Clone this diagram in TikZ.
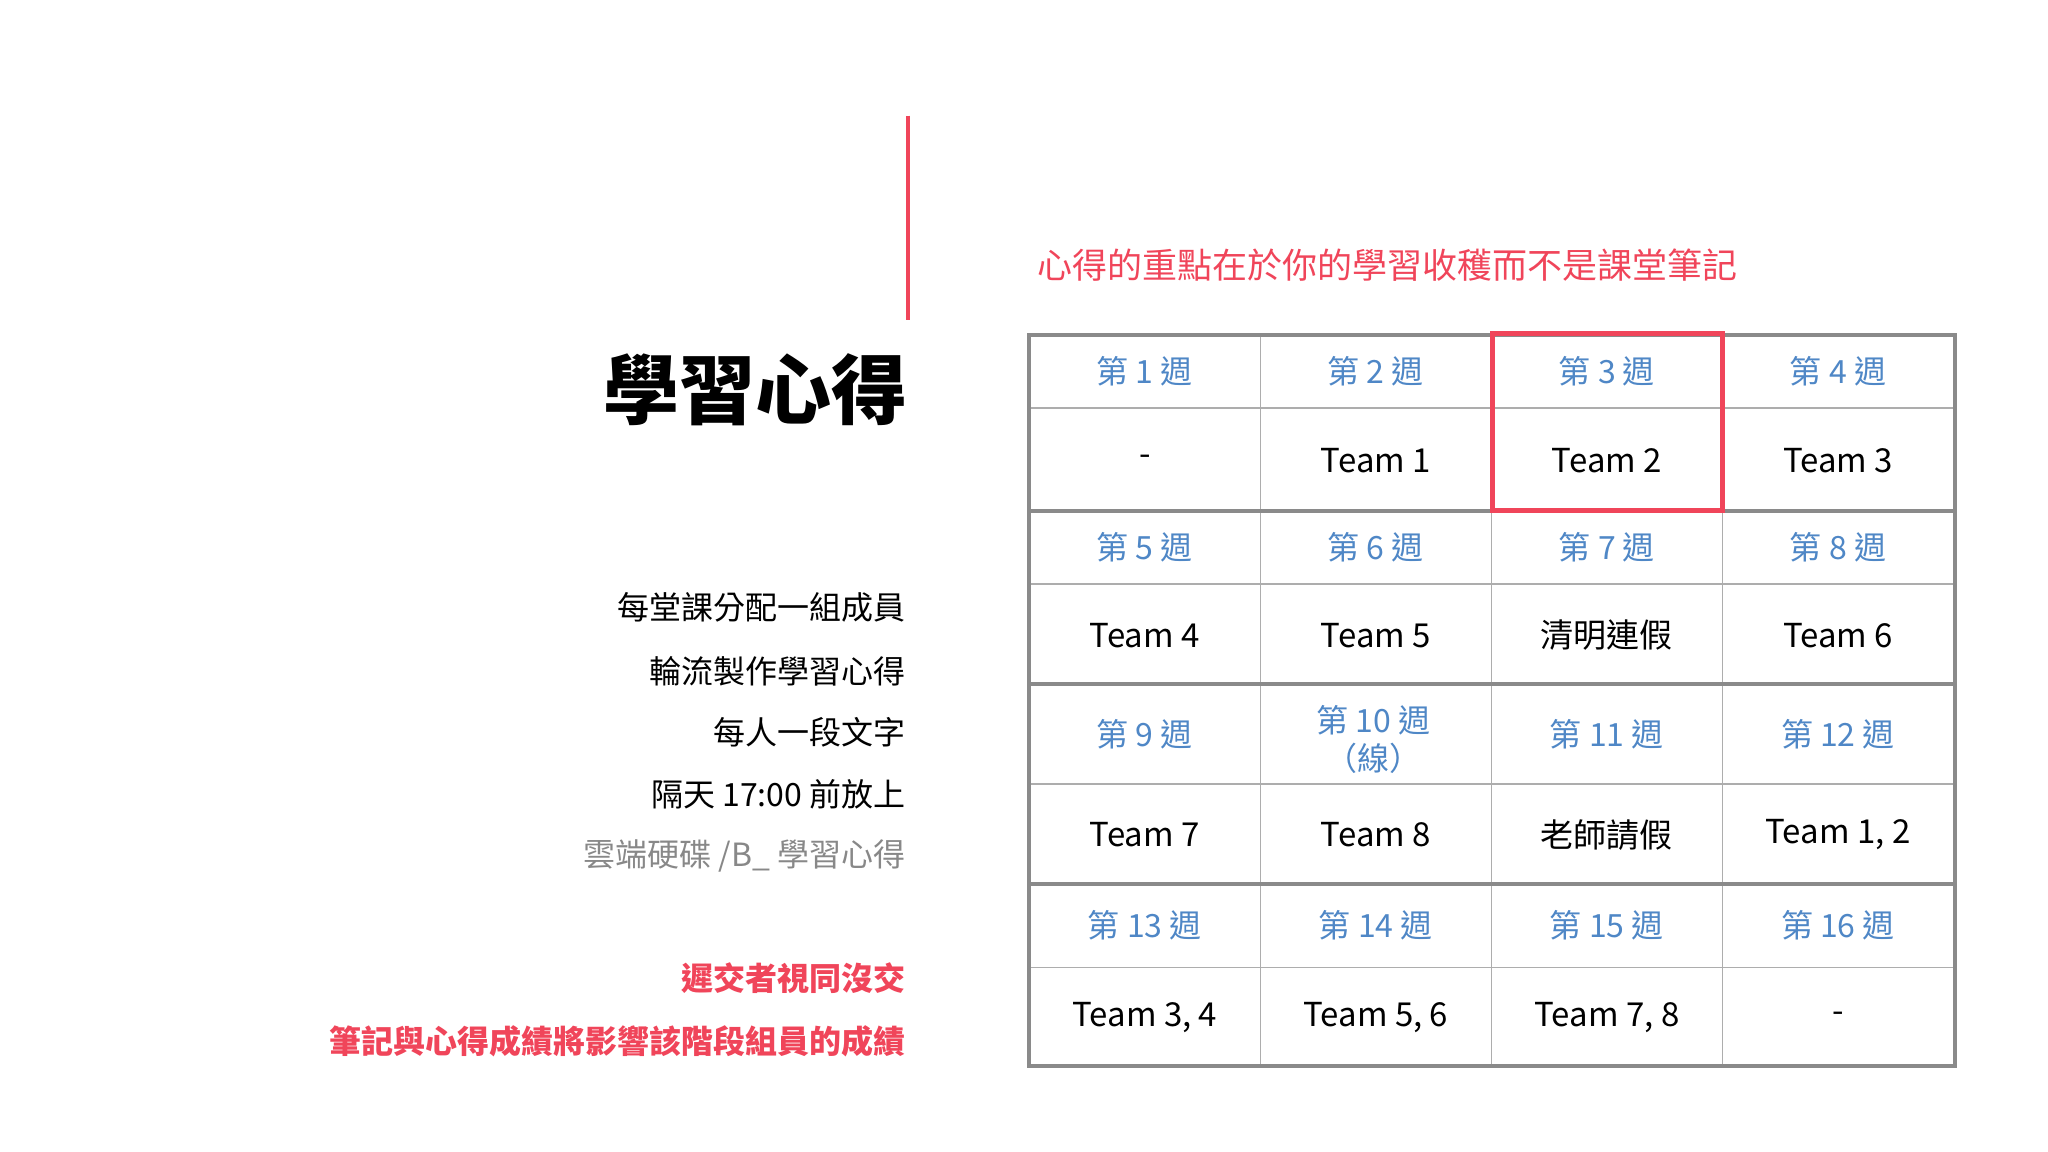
\documentclass[tikz,border=0pt]{standalone}
\usepackage{fontspec}
\setmainfont{Noto Sans CJK TC}
\newfontfamily\cjkb{Noto Sans CJK TC Bold}
\definecolor{myred}{HTML}{F0455A}
\definecolor{myblue}{HTML}{4F87C6}
\definecolor{mygray}{HTML}{8A8A8A}
\definecolor{txtgray}{HTML}{888888}
\begin{document}
\begin{tikzpicture}[x=0.6564pt,y=-0.6564pt,
  wk/.style={text=myblue,font=\fontsize{16}{19}\selectfont,align=center},
  tm/.style={text=black,font=\fontsize{16.5}{20}\selectfont},
  lt/.style={anchor=east,font=\fontsize{16}{19}\selectfont},
  thin/.style={draw=mygray!70,line width=0.8pt},
  thick/.style={draw=mygray,line width=2pt}]
\useasboundingbox (0,0) rectangle (1560,877);
\draw[myred,line width=2pt] (692,88) coordinate (ra) -- (692,244) coordinate (rb);
\node[anchor=east,font=\fontsize{38}{44}\bfseries\selectfont] (title) at (697,297) {學習心得};
\node[lt] (l1) at (695,463) {每堂課分配一組成員};
\node[lt] (l2) at (695,511) {輪流製作學習心得};
\node[lt] (l3) at (695,558) {每人一段文字};
\node[lt] (l4) at (695,605) {隔天 17:00 前放上};
\node[lt,text=txtgray] (l5) at (695,652) {雲端硬碟 /B\_ 學習心得};
\node[lt,text=myred,font=\fontsize{16}{19}\bfseries\selectfont] (l6) at (695,745) {遲交者視同沒交};
\node[lt,text=myred,font=\fontsize{16}{19}\bfseries\selectfont] (l7) at (695,793) {筆記與心得成績將影響該階段組員的成績};
\node[anchor=west,text=myred,font=\fontsize{17.5}{21}\selectfont] (top) at (785,202) {心得的重點在於你的學習收穫而不是課堂筆記};
% grid
\foreach \x in {960,1136,1312} \draw[thin] (\x,255) -- (\x,812);
\foreach \y in {311,445,597,737} \draw[thin] (784,\y) -- (1489,\y);
\foreach \y in {389,521,673} \draw[thick] (784,\y) -- (1489,\y);
\draw[thick] (784,255) rectangle (1489,812);
\draw[myred,line width=2.5pt] (1137,254) rectangle (1312,389);
% content
\def\cx#1{\ifcase#1\or872\or1048\or1224\or1400\fi}
\foreach \i/\t in {1/第 1 週,2/第 2 週,3/第 3 週,4/第 4 週} \node[wk] (w\i) at (\cx{\i},283) {\t};
\foreach \i/\t in {1/-,2/Team 1,3/Team 2,4/Team 3} \node[tm] (t\i) at (\cx{\i},351) {\t};
\foreach \i/\t in {1/第 5 週,2/第 6 週,3/第 7 週,4/第 8 週} \node[wk] (w5\i) at (\cx{\i},417) {\t};
\foreach \i/\t in {1/Team 4,2/Team 5,3/清明連假,4/Team 6} \node[tm] (t5\i) at (\cx{\i},484) {\t};
\foreach \i/\t in {1/第 9 週,3/第 11 週,4/第 12 週} \node[wk] (w9\i) at (\cx{\i},559) {\t};
\node[wk] (w10) at (1046,563) {第 10 週\\（線）};
\foreach \i/\t in {1/Team 7,2/Team 8,3/老師請假,4/{Team 1, 2}} \node[tm] (t9\i) at (\cx{\i},636) {\t};
\foreach \i/\t in {1/第 13 週,2/第 14 週,3/第 15 週,4/第 16 週} \node[wk] (w13\i) at (\cx{\i},705) {\t};
\foreach \i/\t in {1/{Team 3, 4},2/{Team 5, 6},3/{Team 7, 8},4/-} \node[tm] (t13\i) at (\cx{\i},775) {\t};
\end{tikzpicture}
\end{document}
